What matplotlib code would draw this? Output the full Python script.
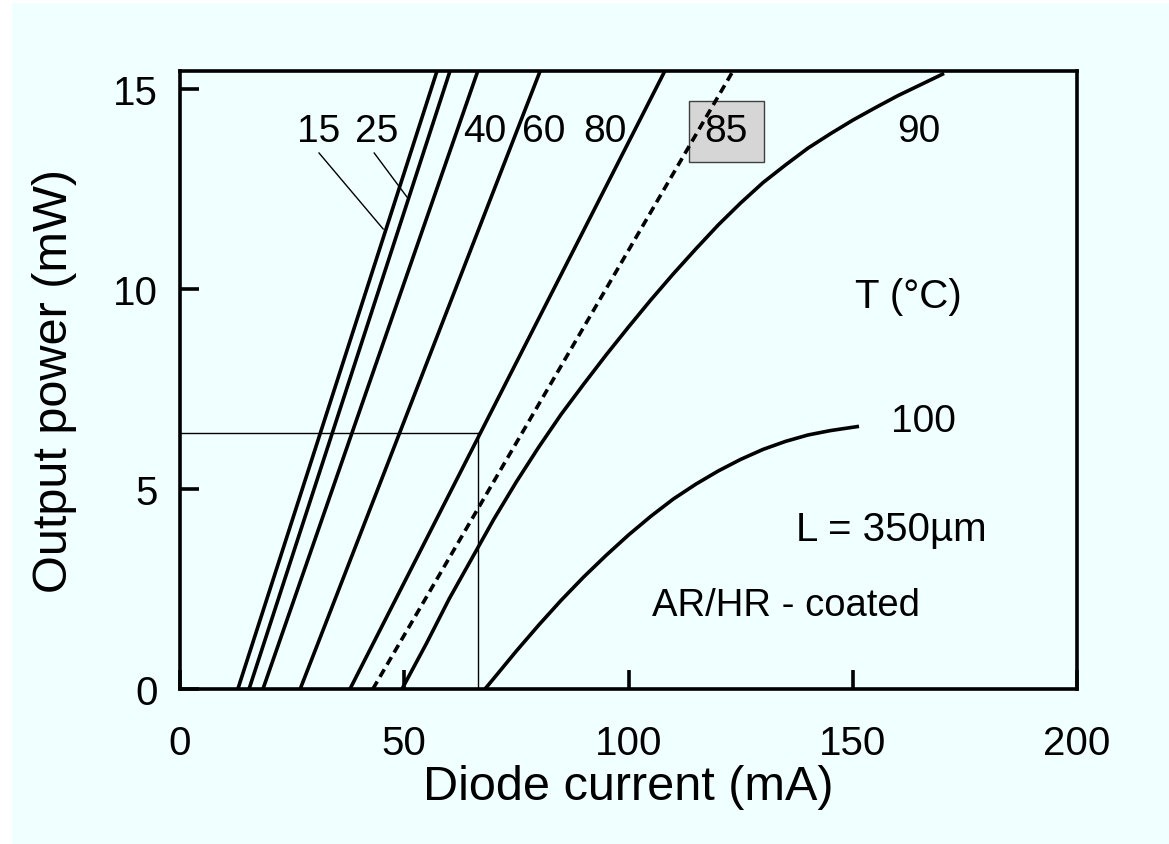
import numpy as np
import matplotlib
matplotlib.use("Agg")
import matplotlib.pyplot as plt
from matplotlib.patches import Rectangle

plt.rcParams['font.family'] = ['Liberation Sans', 'DejaVu Sans']

# straight L-I lines: threshold current (mA) and current where the line leaves the frame
lin_temps = ['15', '25', '40', '60', '80', '85']
lin_i_th = [12.9, 15.4, 18.5, 26.8, 37.9, 43.0]
lin_i_top = [57.3, 60.2, 66.4, 80.3, 108.1, 123.3]
lin_p_top = 15.45

# 90 C curve (bends over)
i_90 = [49.5, 55, 60, 65, 70, 75, 80, 85, 90, 95, 100, 105, 110, 115, 120,
        125, 130, 135, 140, 145, 150, 155, 160, 165, 170]
p_90 = [0, 1.15, 2.25, 3.25, 4.25, 5.18, 6.05, 6.87, 7.62, 8.35, 9.05, 9.73,
        10.38, 11.0, 11.6, 12.15, 12.66, 13.1, 13.52, 13.88, 14.22, 14.53,
        14.83, 15.1, 15.37]

# 100 C curve
i_100 = [68, 70, 75, 80, 85, 90, 95, 100, 105, 110, 115, 120, 125, 130, 135,
         140, 145, 151]
p_100 = [0, 0.27, 0.95, 1.6, 2.22, 2.8, 3.34, 3.85, 4.32, 4.75, 5.12, 5.45,
         5.74, 5.99, 6.19, 6.35, 6.46, 6.56]

# operating point marked with thin lines
op_i = 66.4
op_p = 6.4

bg = '#F0FFFF'
fig = plt.figure(figsize=(11.69, 8.45), dpi=100, facecolor='white')
fig.add_artist(Rectangle((12 / 1169, 0), 1, 1 - 4 / 845, transform=fig.transFigure,
                         facecolor=bg, edgecolor='none', zorder=-10))
ax = fig.add_axes([180 / 1169, 1 - 690 / 845, 897 / 1169, 618 / 845])
ax.set_facecolor(bg)

lw = 2.6
for t, i0, i1 in zip(lin_temps, lin_i_th, lin_i_top):
    ls = (0, (2.4, 1.5)) if t == '85' else '-'
    ax.plot([i0, i1], [0, lin_p_top], color='black', lw=lw, ls=ls, zorder=3,
            solid_capstyle='butt')
ax.plot(i_90, p_90, color='black', lw=lw, zorder=3)
ax.plot(i_100, p_100, color='black', lw=lw, zorder=3)

ax.plot([0, op_i], [op_p, op_p], color='black', lw=1.0, zorder=2)
ax.plot([op_i, op_i], [0, op_p], color='black', lw=1.0, zorder=2)

# curve labels
fs = 28
ax.text(30.8, 13.95, '15', fontsize=fs, ha='center', va='center')
ax.text(43.9, 13.95, '25', fontsize=fs, ha='center', va='center')
ax.plot([31.0, 45.3], [13.4, 11.5], color='black', lw=1.0)
ax.plot([43.3, 50.6], [13.4, 12.3], color='black', lw=1.0)
ax.text(68.0, 13.95, '40', fontsize=fs, ha='center', va='center')
ax.text(81.2, 13.95, '60', fontsize=fs, ha='center', va='center')
ax.text(94.8, 13.95, '80', fontsize=fs, ha='center', va='center')
ax.add_patch(Rectangle((113.5, 13.18), 16.7, 1.52, facecolor='#d6d6d6',
                       edgecolor='#404040', lw=1.0, zorder=2))
ax.text(121.7, 13.95, '85', fontsize=fs, ha='center', va='center', zorder=4)
ax.text(164.7, 13.95, '90', fontsize=fs, ha='center', va='center')
ax.text(165.8, 6.7, '100', fontsize=fs, ha='center', va='center')

ax.text(162.5, 9.83, 'T (°C)', fontsize=29, ha='center', va='center')
ax.text(158.5, 4.0, 'L = 350µm', fontsize=29, ha='center', va='center')
ax.text(135.1, 2.1, 'AR/HR - coated', fontsize=27.5, ha='center', va='center')

ax.set_xlim(0, 200)
ax.set_ylim(0, 15.45)
ax.set_xticks([0, 50, 100, 150, 200])
ax.set_yticks([0, 5, 10, 15])
ax.tick_params(direction='in', length=14, width=2.6, labelsize=29,
               top=False, right=False)
ax.tick_params(axis='x', pad=25)
ax.tick_params(axis='y', pad=16)
for s in ax.spines.values():
    s.set_linewidth(2.6)

ax.set_xlabel('Diode current (mA)', fontsize=35)
ax.set_ylabel('Output power (mW)', fontsize=35)
ax.xaxis.set_label_coords(0.5, -0.122)
ax.yaxis.set_label_coords(-0.115, 0.5)

fig.savefig('out.png', dpi=100, facecolor=fig.get_facecolor())
